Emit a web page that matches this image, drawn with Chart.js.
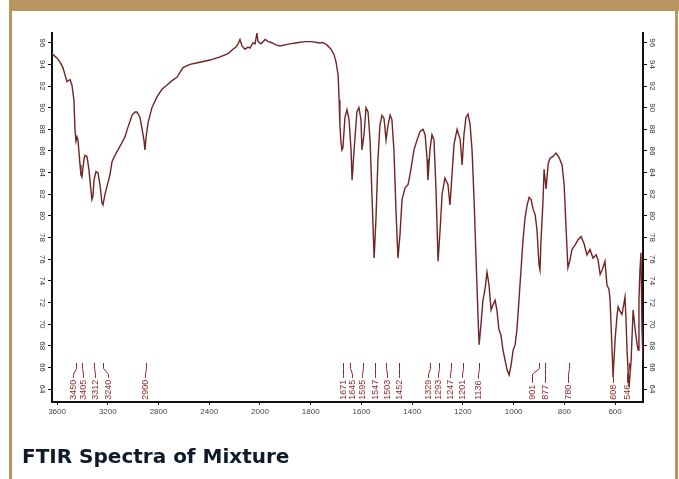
<!DOCTYPE html>
<html>
<head>
<meta charset="utf-8">
<title>FTIR Spectra of Mixture</title>
<script src="https://cdn.jsdelivr.net/npm/chart.js@4.4.1/dist/chart.umd.min.js"></script>
<style>
  html, body { margin: 0; padding: 0; background: #fff; }
  #wrap { position: relative; width: 679px; height: 479px; overflow: hidden; background: #fff; }
  #chart { position: absolute; left: 0; top: 0; }
  .frame { position: absolute; background: #b8955f; }
</style>
</head>
<body>
<div id="wrap">
  <canvas id="chart" width="679" height="479"></canvas>
  <div class="frame" style="left:9px;top:0;width:670px;height:11px"></div>
  <div class="frame" style="left:9px;top:0;width:3px;height:479px"></div>
  <div class="frame" style="left:675px;top:0;width:3px;height:479px"></div>
</div>
<script>
// Wavenumber (cm-1) and %Transmittance of the recorded spectrum
const wavenumbers = [
  3640, 3632, 3601, 3577, 3554, 3522, 3498, 3483, 3467, 3459, 3451, 3443, 3435, 3419, 3412, 3404,
  3388, 3380, 3364, 3349, 3333, 3325, 3317, 3309, 3293, 3278, 3262, 3246, 3238, 3222, 3207, 3183,
  3167, 3143, 3120, 3096, 3065, 3041, 3009, 2986, 2970, 2946, 2931, 2915, 2907, 2899, 2883, 2852,
  2812, 2773, 2733, 2694, 2655, 2607, 2552, 2473, 2394, 2315, 2252, 2213, 2189, 2173, 2158, 2142,
  2118, 2095, 2079, 2055, 2039, 2024, 2016, 1996, 1980, 1968, 1953, 1937, 1921, 1901, 1882, 1854,
  1823, 1795, 1771, 1752, 1736, 1720, 1708, 1700, 1692, 1688, 1685, 1681, 1677, 1673, 1665, 1657,
  1649, 1641, 1637, 1629, 1618, 1610, 1602, 1598, 1590, 1582, 1574, 1566, 1558, 1550, 1543, 1535,
  1527, 1519, 1511, 1503, 1495, 1487, 1480, 1472, 1464, 1456, 1448, 1440, 1428, 1416, 1405, 1393,
  1381, 1369, 1357, 1349, 1341, 1338, 1330, 1322, 1314, 1306, 1298, 1290, 1282, 1271, 1259, 1251,
  1243, 1235, 1223, 1211, 1203, 1196, 1188, 1180, 1172, 1164, 1156, 1148, 1140, 1136, 1129, 1121,
  1113, 1105, 1097, 1089, 1081, 1073, 1066, 1058, 1050, 1042, 1034, 1026, 1018, 1010, 1002, 994,
  987, 979, 971, 963, 955, 947, 939, 931, 923, 915, 908, 900, 896, 892, 884, 880,
  872, 864, 857, 845, 833, 821, 809, 801, 793, 786, 778, 770, 758, 746, 734, 722,
  711, 699, 687, 675, 667, 659, 651, 644, 640, 632, 624, 620, 612, 608, 600, 592,
  588, 581, 573, 569, 561, 557, 553, 549, 545, 537, 529, 521, 513, 509, 506, 502,
  498, 494, 490
];
const transmittance = [
  95.0, 94.9, 94.6, 94.2, 93.7, 92.4, 92.6, 92.1, 90.7, 88.0, 86.9, 87.3, 87.0, 84.7, 83.8, 83.6,
  85.2, 85.6, 85.5, 84.3, 82.4, 81.5, 81.8, 83.3, 84.1, 84.0, 82.9, 81.2, 81.0, 82.0, 82.7, 83.8,
  85.0, 85.6, 86.1, 86.6, 87.3, 88.2, 89.3, 89.6, 89.6, 89.1, 88.1, 87.0, 86.1, 87.2, 88.6, 90.0,
  91.0, 91.7, 92.1, 92.5, 92.8, 93.7, 94.0, 94.2, 94.4, 94.7, 95.0, 95.4, 95.6, 95.9, 96.3, 95.7,
  95.4, 95.6, 95.5, 96.0, 95.9, 96.9, 96.1, 95.9, 96.3, 96.1, 96.0, 95.8, 95.7, 95.8, 95.9, 96.0,
  96.1, 96.1, 96.0, 96.0, 95.8, 95.4, 94.9, 94.2, 93.0, 90.7, 88.4, 86.9, 86.1, 86.3, 89.1, 89.8,
  88.9, 86.1, 83.3, 86.1, 89.6, 90.0, 88.9, 86.1, 87.5, 90.0, 89.6, 87.0, 81.5, 76.1, 79.6, 85.2,
  88.4, 89.3, 89.0, 87.0, 88.4, 89.3, 88.9, 86.1, 80.6, 76.1, 78.3, 81.5, 82.6, 82.9, 84.3, 86.1,
  87.0, 87.8, 88.0, 87.5, 85.2, 83.3, 86.1, 87.5, 87.0, 82.4, 75.8, 78.7, 82.0, 83.5, 82.9, 81.0,
  83.8, 86.6, 88.0, 87.1, 84.7, 87.5, 89.1, 89.4, 88.5, 86.1, 81.5, 75.9, 70.4, 68.1, 69.9, 72.2,
  73.2, 74.8, 73.6, 71.3, 71.8, 72.2, 71.3, 69.5, 69.0, 67.6, 66.7, 65.8, 65.3, 66.2, 67.6, 68.1,
  69.5, 72.2, 75.0, 77.8, 79.8, 81.0, 81.7, 81.5, 80.6, 80.1, 78.7, 75.5, 75.0, 77.8, 81.5, 84.3,
  82.5, 84.8, 85.3, 85.5, 85.8, 85.4, 84.7, 82.9, 78.7, 75.2, 75.9, 76.9, 77.3, 77.8, 78.1, 77.4,
  76.4, 76.9, 76.1, 76.4, 75.9, 74.6, 75.0, 75.5, 75.8, 73.6, 73.2, 72.3, 67.6, 65.1, 68.6, 70.9,
  71.6, 71.2, 70.9, 71.4, 72.5, 70.4, 67.6, 65.8, 64.2, 66.6, 71.3, 69.5, 68.1, 67.6, 72.2, 75.0,
  76.6, 69.5, 66.7
];

// Marked absorption bands and where each tag's text sits on the wavenumber axis
const peakWavenumbers = [3450, 3405, 3312, 3240, 2900, 1671, 1645, 1595, 1547, 1503, 1452,
                         1329, 1293, 1247, 1201, 1136, 901, 877, 780, 608, 546];
const peakTextAt      = [3475, 3396, 3301, 3199, 2907, 1673, 1637, 1598, 1547, 1499, 1452,
                         1337, 1298, 1251, 1203, 1140, 927, 876, 786, 608, 553];

const xTickLabels = [3600, 3200, 2800, 2400, 2000, 1800, 1600, 1400, 1200, 1000, 800, 600];
const yTickLabels = [64, 66, 68, 70, 72, 74, 76, 78, 80, 82, 84, 86, 88, 90, 92, 94, 96];

// The wavenumber axis is compressed 2:1 above 2000 cm-1
const toAxis = wn => (wn <= 2000 ? wn : 2000 + (wn - 2000) / 2);
const fromAxis = u => (u <= 2000 ? u : 2000 + (u - 2000) * 2);

const points = wavenumbers.map((wn, i) => ({ x: toAxis(wn), y: transmittance[i] }));

const tagColor = '#8e2a2a';
const peakTags = {
  id: 'peakTags',
  afterDatasetsDraw(chart) {
    const { ctx, scales: { x, y } } = chart;
    ctx.save();
    ctx.strokeStyle = tagColor;
    ctx.fillStyle = tagColor;
    ctx.lineWidth = 1;
    ctx.font = '9px "Liberation Sans", Arial, sans-serif';
    const yTop = y.getPixelForValue(66.4);
    const yBend = y.getPixelForValue(65.9);
    const yKnee = y.getPixelForValue(65.35);
    const yBase = y.getPixelForValue(63.0);
    peakWavenumbers.forEach((wn, i) => {
      const label = String(wn);
      const px = Math.round(x.getPixelForValue(toAxis(wn))) + 0.5;
      const tx = Math.round(x.getPixelForValue(toAxis(peakTextAt[i]))) + 0.5;
      const w = ctx.measureText(label).width;
      const textTop = yBase - w - 2;
      ctx.beginPath();
      ctx.moveTo(px, yTop);
      ctx.lineTo(px, yBend);
      ctx.lineTo(tx, yKnee);
      ctx.lineTo(tx, Math.max(textTop, yKnee));
      ctx.stroke();
      ctx.save();
      ctx.translate(tx, yBase);
      ctx.rotate(-Math.PI / 2);
      ctx.textAlign = 'left';
      ctx.textBaseline = 'middle';
      ctx.fillText(label, 0, 0);
      ctx.restore();
    });
    ctx.restore();
  }
};

const tickFont = { family: '"Liberation Sans", Arial, sans-serif', size: 8 };
const yAxis = (position) => ({
  type: 'linear',
  position,
  min: 62.8,
  max: 96.9,
  afterBuildTicks: s => { s.ticks = yTickLabels.map(v => ({ value: v })); },
  afterFit: s => { s.width = position === 'left' ? 30 : 32; },
  ticks: {
    autoSkip: false,
    minRotation: -90,
    maxRotation: -90,
    crossAlign: 'center',
    padding: 1,
    font: tickFont,
    color: '#333'
  },
  grid: { display: true, drawOnChartArea: false, drawTicks: true, tickLength: 4, color: '#111', lineWidth: 1 },
  border: { display: true, color: '#111', width: 2 }
});

new Chart(document.getElementById('chart'), {
  type: 'line',
  data: {
    datasets: [{
      data: points,
      borderColor: '#722424',
      borderWidth: 1.4,
      pointRadius: 0,
      tension: 0,
      fill: false
    }]
  },
  options: {
    responsive: false,
    animation: false,
    layout: { padding: { left: 22, right: 4, top: 33, bottom: 0 } },
    plugins: {
      legend: { display: false },
      tooltip: { enabled: false },
      title: {
        display: true,
        text: 'FTIR Spectra of Mixture',
        position: 'bottom',
        align: 'start',
        color: '#0f1a2a',
        font: { family: '"DejaVu Sans", sans-serif', size: 20, weight: 'bold', lineHeight: 1.2 },
        padding: { top: 19.5, bottom: 9.5 }
      }
    },
    scales: {
      x: {
        type: 'linear',
        reverse: true,
        min: toAxis(490),
        max: toAxis(3640),
        afterBuildTicks: s => { s.ticks = xTickLabels.map(v => ({ value: toAxis(v) })); },
        afterFit: s => { s.height = 24; },
        ticks: {
          autoSkip: false,
          maxRotation: 0,
          minRotation: 0,
          padding: 2,
          font: tickFont,
          color: '#444',
          callback: v => String(Math.round(fromAxis(v)))
        },
        grid: { display: true, drawOnChartArea: false, drawTicks: true, tickLength: 3, color: '#111', lineWidth: 1 },
        border: { display: true, color: '#111', width: 2 }
      },
      y: yAxis('left'),
      y2: yAxis('right')
    }
  },
  plugins: [peakTags]
});
</script>
</body>
</html>
